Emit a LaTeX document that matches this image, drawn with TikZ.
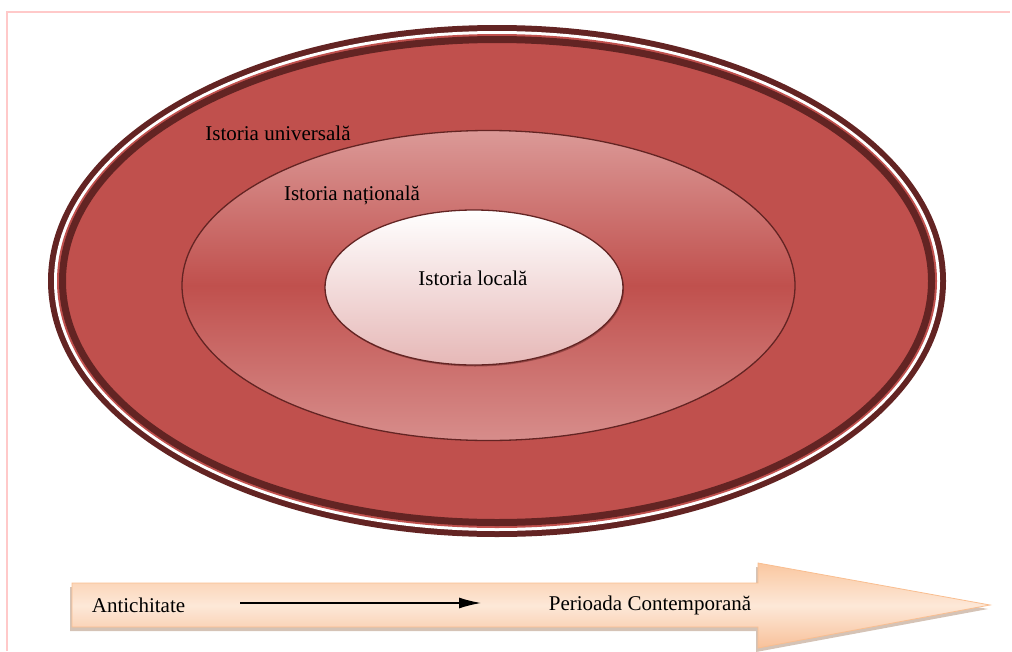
\documentclass[tikz,border=0pt]{standalone}
\usepackage{fontspec}
\setmainfont{Liberation Serif}
\usetikzlibrary{shapes.geometric,arrows.meta,shadows}
\definecolor{darkred}{HTML}{632423}
\definecolor{accred}{HTML}{C0504D}
\definecolor{pinktop}{HTML}{DB9997}
\definecolor{pinkbot}{HTML}{D78D8B}
\definecolor{innerbot}{HTML}{E6B8B7}
\definecolor{peachtop}{HTML}{FAC7A0}
\definecolor{peachmid}{HTML}{FDE8D8}
\definecolor{peachbot}{HTML}{F8C19A}
\definecolor{peachedge}{HTML}{F9BE90}
\definecolor{framepink}{HTML}{FFC9C9}
\tikzset{
  ell/.style={ellipse, inner sep=0pt, outer sep=0pt},
  lbl/.style={font=\fontsize{21}{24}\selectfont, text=black, inner sep=0pt},
}
\begin{document}
\begin{tikzpicture}[x=1pt,y=-1pt]
\useasboundingbox (0,0) rectangle (1012,651);
% frame lines
\draw[framepink, line width=1.2pt] (7,651) -- (7,12) -- (1010,12);
% outer ring
\node[ell, fill=darkred, minimum width=898, minimum height=512] (outer) at (497,281) {};
\node[ell, fill=white, minimum width=886, minimum height=500] (gap) at (497,281) {};
\node[ell, fill=accred, minimum width=880, minimum height=494] (univ) at (497,281) {};
\node[ell, draw=darkred, line width=7pt, minimum width=869, minimum height=483] (ring) at (497,281) {};
% middle
\node[ell, draw=darkred, line width=1.3pt, top color=pinktop, bottom color=pinkbot, middle color=accred, minimum width=613, minimum height=310] (nat) at (488.5,285.5) {};
% inner
\node[ell, draw=darkred, line width=1.3pt, top color=white, bottom color=innerbot, drop shadow={shadow xshift=1pt, shadow yshift=-1.5pt, fill=darkred, opacity=0.5}, minimum width=298, minimum height=155] (loc) at (474,287.5) {};
% labels
\node[lbl] (tu) at (278,133) {Istoria universală};
\node[lbl] (tn) at (352,195) {Istoria națională};
\node[lbl] (tl) at (473,278) {Istoria locală};
% time arrow
\fill[black!35!peachedge, opacity=0.45] (70,587) -- (756,587) -- (756,567) -- (988,609) -- (756,652) -- (756,631) -- (70,631) -- cycle;
\shade[top color=peachtop, bottom color=peachbot, middle color=peachmid, draw=peachedge, line width=0.8pt]
  (72,583) -- (758,583) -- (758,563) -- (990,605) -- (758,648) -- (758,627) -- (72,627) -- cycle;
\node[lbl] (ta) at (138.5,605) {Antichitate};
\node[lbl] (tc) at (650,605) {Perioada Contemporană};
\coordinate (p1) at (240,603);
\coordinate (p2) at (481,603);
\draw[line width=1.3pt, -{Latex[length=22pt,width=11pt]}] (p1) -- (p2);
\end{tikzpicture}
\end{document}
